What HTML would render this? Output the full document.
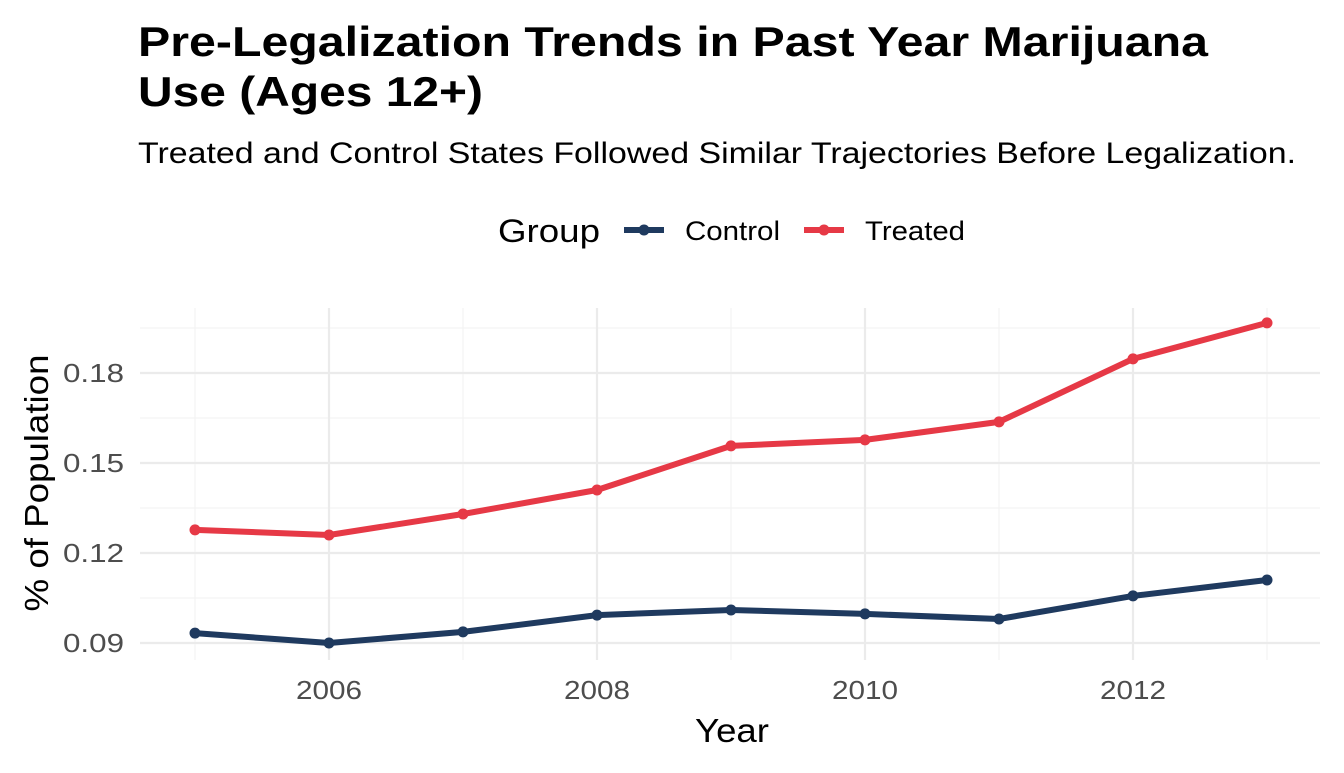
<!DOCTYPE html>
<html><head><meta charset="utf-8"><style>
body{margin:0;background:#fff;font-family:"Liberation Sans",Arial,sans-serif}
svg text{font-family:"Liberation Sans",Arial,sans-serif}
</style></head><body>
<svg id="chart" width="1344" height="768" xmlns="http://www.w3.org/2000/svg">
<text x="138" y="56" font-size="42" font-weight="bold" fill="#000" textLength="1070" lengthAdjust="spacingAndGlyphs">Pre-Legalization Trends in Past Year Marijuana</text>
<text x="138" y="106" font-size="42" font-weight="bold" fill="#000" textLength="345" lengthAdjust="spacingAndGlyphs">Use (Ages 12+)</text>
<text x="138" y="163" font-size="30" fill="#000" textLength="1158" lengthAdjust="spacingAndGlyphs">Treated and Control States Followed Similar Trajectories Before Legalization.</text>
<g>
<text x="498" y="242" font-size="32" fill="#000" textLength="102" lengthAdjust="spacingAndGlyphs">Group</text>
<g>
<line x1="624" y1="230" x2="664" y2="230" stroke="#1f3a5f" stroke-width="6"/><circle cx="644" cy="230" r="5.5" fill="#1f3a5f"/>
<text x="685" y="240" font-size="27" fill="#000" textLength="95" lengthAdjust="spacingAndGlyphs">Control</text></g>
<g>
<line x1="804" y1="230" x2="844" y2="230" stroke="#e63946" stroke-width="6"/><circle cx="824" cy="230" r="5.5" fill="#e63946"/>
<text x="865" y="240" font-size="27" fill="#000" textLength="100" lengthAdjust="spacingAndGlyphs">Treated</text></g>
</g>
<g id="grid"></g><g id="axes"></g><g id="series"></g>
<text x="732" y="742" font-size="33" text-anchor="middle" fill="#000" textLength="74" lengthAdjust="spacingAndGlyphs">Year</text>
<text transform="translate(48,483) rotate(-90)" font-size="33" text-anchor="middle" fill="#000" textLength="257" lengthAdjust="spacingAndGlyphs">% of Population</text>
</svg>
<script>
const years=[2005,2006,2007,2008,2009,2010,2011,2012,2013];
const controlValues=[0.0933,0.0900,0.0937,0.0993,0.1010,0.0997,0.0980,0.1057,0.1110];
const treatedValues=[0.1277,0.1260,0.1330,0.1410,0.1557,0.1577,0.1637,0.1847,0.1967];
const xTicks=[2006,2008,2010,2012];
const xMinor=[2005,2007,2009,2011,2013];
const yTicks=[0.09,0.12,0.15,0.18];
const yMinor=[0.105,0.135,0.165,0.195];
const X=v=>329+(v-2006)*134;
const Y=v=>643-(v-0.09)*3000;
const L=140,R=1320,T=308,B=660;
const ns="http://www.w3.org/2000/svg";
function mk(p,tag,a){const e=document.createElementNS(ns,tag);for(const k in a)e.setAttribute(k,a[k]);p.appendChild(e);return e;}
const g=document.getElementById('grid'),ax=document.getElementById('axes'),s=document.getElementById('series');
yMinor.forEach(v=>{const e=mk(g,'line',{x1:L,x2:R,y1:Y(v),y2:Y(v),stroke:'#f2f2f2','stroke-width':1});

});
xMinor.forEach(v=>{const e=mk(g,'line',{x1:X(v),x2:X(v),y1:T,y2:B,stroke:'#f2f2f2','stroke-width':1});

});
yTicks.forEach(v=>{const e=mk(g,'line',{x1:L,x2:R,y1:Y(v),y2:Y(v),stroke:'#ebebeb','stroke-width':2.2});


const t=mk(ax,'text',{x:124,y:Y(v)+9,'font-size':26,'text-anchor':'end',fill:'#4d4d4d',textLength:61,lengthAdjust:'spacingAndGlyphs'});t.textContent=v.toFixed(2);

});
xTicks.forEach(v=>{const e=mk(g,'line',{x1:X(v),x2:X(v),y1:T,y2:B,stroke:'#ebebeb','stroke-width':2.2});


const t=mk(ax,'text',{x:X(v),y:699,'font-size':26,'text-anchor':'middle',fill:'#4d4d4d',textLength:66,lengthAdjust:'spacingAndGlyphs'});t.textContent=v;

});
[[controlValues,'#1f3a5f','control'],[treatedValues,'#e63946','treated']].forEach(([vals,c,n])=>{
const p=mk(s,'polyline',{points:vals.map((v,i)=>X(years[i])+','+Y(v)).join(' '),fill:'none',stroke:c,'stroke-width':6,'stroke-linejoin':'round'});


vals.forEach((v,i)=>{const d=mk(s,'circle',{cx:X(years[i]),cy:Y(v),r:5.5,fill:c});

});
});
</script>
</body></html>
